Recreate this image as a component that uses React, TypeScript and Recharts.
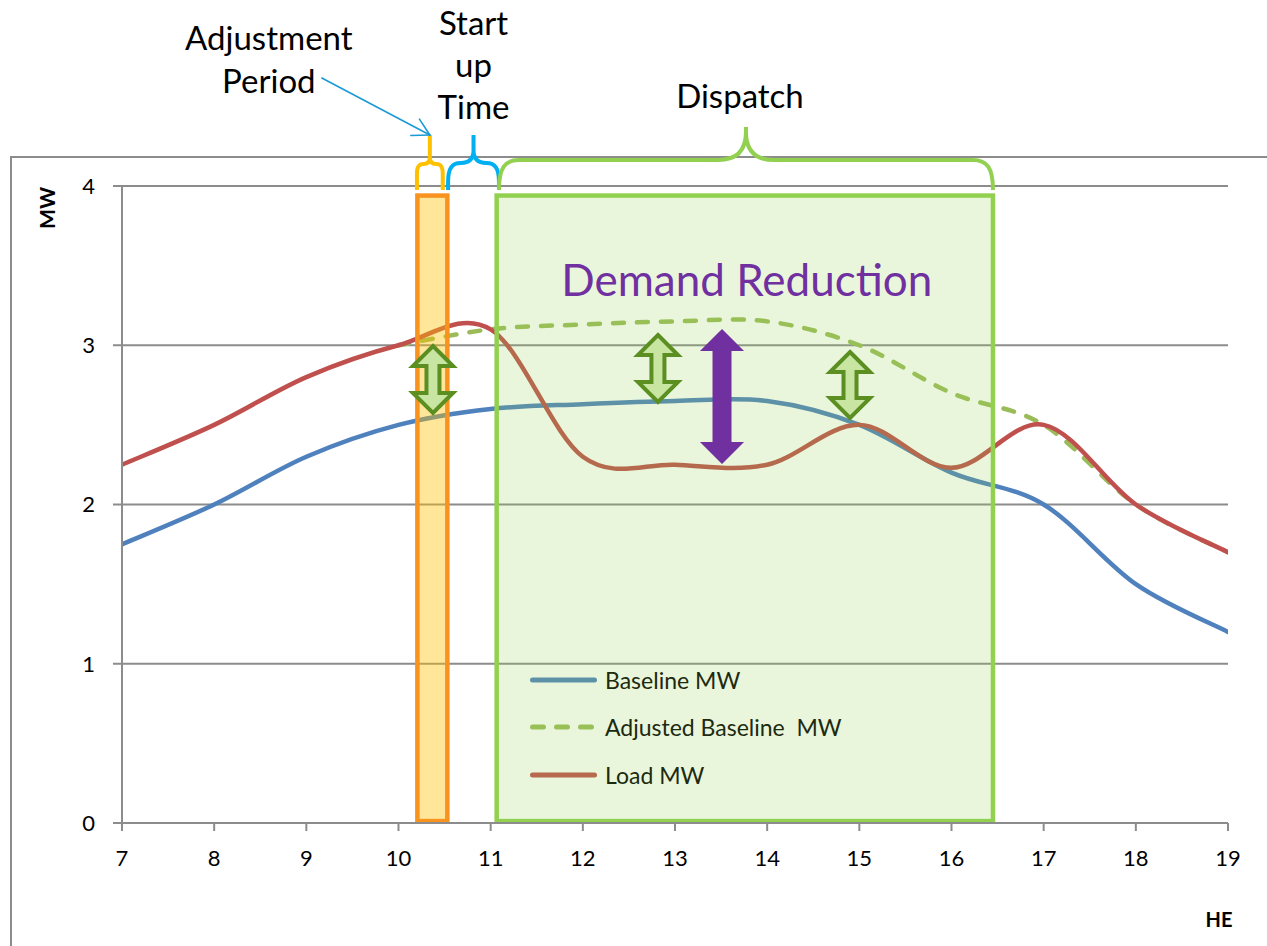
import React from 'react';
import { LineChart, Line, XAxis, YAxis, CartesianGrid, ReferenceArea, Legend } from 'recharts';

// ---------- data ----------
const hours = [7, 8, 9, 10, 11, 12, 13, 14, 15, 16, 17, 18, 19];
const baselineMW = [1.75, 2.0, 2.3, 2.5, 2.6, 2.63, 2.65, 2.65, 2.5, 2.2, 2.0, 1.5, 1.2];
const adjustedBaselineMW = [null, null, null, 3.0, 3.1, 3.13, 3.15, 3.15, 3.0, 2.7, 2.5, 2.0, 1.7];
const loadMW = [2.25, 2.5, 2.8, 3.0, 3.1, 2.3, 2.25, 2.25, 2.5, 2.23, 2.5, 2.0, 1.7];
const xTicks = [7, 8, 9, 10, 11, 12, 13, 14, 15, 16, 17, 18, 19];
const yTicks = [0, 1, 2, 3, 4];

// periods (hours) and band heights (MW)
const adjustmentPeriod = [10.205, 10.53];
const dispatchPeriod = [11.065, 16.45];
const bandRange = [0.012, 3.94];
const braceRange = [3.975, 4.32];
const dispatchBraceRange = [3.975, 4.37];
const adjustmentBrace = [10.2, 10.48];
const startupBrace = [10.538, 11.09];
const dispatchBrace = [11.09, 16.45];
// double arrows: centre hour, low MW, high MW
const greenArrows = [
  [10.374, 2.562, 3.008],
  [12.815, 2.631, 3.077],
  [14.899, 2.531, 2.97],
];
const purpleArrow = [13.51, 2.254, 3.102];
const arrowHalfWidth = 0.239;

const SERIES = [
  { key: 'baseline', name: 'Baseline MW', color: '#4F81BD', dash: undefined as string | undefined },
  { key: 'adjusted', name: 'Adjusted Baseline  MW', color: '#9BBB59', dash: '11 13' },
  { key: 'load', name: 'Load MW', color: '#C0504D', dash: undefined as string | undefined },
];

const rows = hours.map((h, i) => ({
  hour: h,
  baseline: baselineMW[i],
  adjusted: adjustedBaselineMW[i],
  load: loadMW[i],
}));

const FONT = 'Lato, "Open Sans", sans-serif';

// Excel-like smoothing (Catmull-Rom through the points)
function excelSmooth(context: any) {
  let pts: number[][] = [];
  return {
    areaStart() {},
    areaEnd() {},
    lineStart() {
      pts = [];
    },
    lineEnd() {
      const n = pts.length;
      if (!n) return;
      context.moveTo(pts[0][0], pts[0][1]);
      if (n === 1) {
        context.lineTo(pts[0][0], pts[0][1]);
        return;
      }
      for (let i = 0; i < n - 1; i++) {
        const p0 = pts[i - 1] || pts[i];
        const p1 = pts[i];
        const p2 = pts[i + 1];
        const p3 = pts[i + 2] || p2;
        context.bezierCurveTo(
          p1[0] + (p2[0] - p0[0]) / 6,
          p1[1] + (p2[1] - p0[1]) / 6,
          p2[0] - (p3[0] - p1[0]) / 6,
          p2[1] - (p3[1] - p1[1]) / 6,
          p2[0],
          p2[1]
        );
      }
    },
    point(x: number, y: number) {
      pts.push([+x, +y]);
    },
  };
}

function blend(hex: string, over: string, a: number) {
  const p = (h: string) => [1, 3, 5].map((k) => parseInt(h.slice(k, k + 2), 16));
  const c = p(hex);
  const o = p(over);
  const r = c.map((v, i) => Math.round(v * (1 - a) + o[i] * a));
  return `rgb(${r[0]},${r[1]},${r[2]})`;
}

type BraceCfg = {
  color: string;
  shoulder: number;
  radius: number;
  tipRadius: number;
  lines: string[];
  textDx: number;
  baselines: number[];
  pointer?: boolean;
};

function braceShape(cfg: BraceCfg) {
  return (p: any) => {
    const x0 = p.x;
    const x1 = p.x + p.width;
    const yt = p.y;
    const yb = p.y + p.height;
    const xc = (x0 + x1) / 2;
    const ym = yb - cfg.shoulder;
    const r1 = Math.min(cfg.radius, p.width / 4);
    const r2 = Math.min(cfg.tipRadius, p.width / 4);
    const legTop = ym + r1 * 1.5;
    const d =
      `M${x0},${yb} L${x0},${legTop} C${x0},${ym + r1 * 0.4} ${x0 + r1 * 0.3},${ym} ${x0 + r1},${ym} L${xc - r2},${ym} ` +
      `Q${xc},${ym} ${xc},${ym - r2} L${xc},${yt} ` +
      `M${xc},${yt} L${xc},${ym - r2} Q${xc},${ym} ${xc + r2},${ym} L${x1 - r1},${ym} ` +
      `C${x1 - r1 * 0.3},${ym} ${x1},${ym + r1 * 0.4} ${x1},${legTop} L${x1},${yb}`;
    let pointer = null;
    if (cfg.pointer) {
      const sx = xc - 108;
      const sy = yt - 57;
      const ang = Math.atan2(sy - yt, sx - xc);
      const L = 19;
      const da = (29 * Math.PI) / 180;
      pointer = (
        <g stroke="#1A9AD6" strokeWidth={1.6} fill="none" strokeLinecap="round">
          <line x1={sx} y1={sy} x2={xc} y2={yt} />
          <line x1={xc} y1={yt} x2={xc + L * Math.cos(ang + da)} y2={yt + L * Math.sin(ang + da)} />
          <line x1={xc} y1={yt} x2={xc + L * Math.cos(ang - da)} y2={yt + L * Math.sin(ang - da)} />
        </g>
      );
    }
    return (
      <g>
        <path d={d} fill="none" stroke={cfg.color} strokeWidth={4} strokeLinejoin="round" />
        {pointer}
        {cfg.lines.map((t, i) => (
          <text
            key={i}
            x={xc + cfg.textDx}
            y={yt + cfg.baselines[i]}
            textAnchor="middle"
            fontSize={33}
            fontFamily={FONT}
            fill="#000"
          >
            {t}
          </text>
        ))}
      </g>
    );
  };
}

function doubleArrowShape(fill: string, stroke: string | null, sw: number, shaftW: number, headH: number) {
  return (p: any) => {
    const s = stroke ? sw / 2 : 0;
    const left = p.x + s;
    const right = p.x + p.width - s;
    const top = p.y + s;
    const bottom = p.y + p.height - s;
    const cx = p.x + p.width / 2;
    const sh = shaftW / 2 - s;
    const hh = headH - s;
    const d =
      `M${cx},${top} L${right},${top + hh} L${cx + sh},${top + hh} L${cx + sh},${bottom - hh} ` +
      `L${right},${bottom - hh} L${cx},${bottom} L${left},${bottom - hh} L${cx - sh},${bottom - hh} ` +
      `L${cx - sh},${top + hh} L${left},${top + hh} Z`;
    return (
      <path
        d={d}
        fill={fill}
        stroke={stroke || 'none'}
        strokeWidth={stroke ? sw : 0}
        strokeLinejoin="miter"
      />
    );
  };
}

const adjustmentRect = (p: any) => (
  <rect
    x={p.x}
    y={p.y}
    width={p.width}
    height={p.height}
    fill="#FFC000"
    fillOpacity={0.4}
    stroke="#F7931E"
    strokeWidth={4.5}
  />
);

const dispatchRect = (p: any) => (
  <g>
    <rect
      x={p.x}
      y={p.y}
      width={p.width}
      height={p.height}
      fill="#92D050"
      fillOpacity={0.2}
      stroke="#92D050"
      strokeWidth={4.5}
    />
    <text
      x={p.x + p.width / 2 + 2}
      y={p.y + 100}
      textAnchor="middle"
      fontSize={44}
      fontFamily={FONT}
      fill="#7030A0"
    >
      Demand Reduction
    </text>
  </g>
);

const renderLegend = (props: any) => {
  const payload: any[] = props.payload || [];
  const keys = SERIES.filter((s) => payload.length === 0 || payload.some((e) => e.dataKey === s.key));
  return (
    <div style={{ fontFamily: FONT }}>
      {keys.map((s) => (
        <div key={s.key} style={{ display: 'flex', alignItems: 'center', height: 47.5 }}>
          <svg width={75} height={10} style={{ display: 'block' }}>
            <line
              x1={2.5}
              y1={5}
              x2={64.5}
              y2={5}
              stroke={blend(s.color, '#92D050', 0.2)}
              strokeWidth={5}
              strokeLinecap="round"
              strokeDasharray={s.dash}
            />
          </svg>
          <span
            style={{
              fontSize: 23,
              color: blend('#000000', '#92D050', 0.2),
              whiteSpace: 'pre',
              lineHeight: '28px',
            }}
          >
            {s.name}
          </span>
        </div>
      ))}
    </div>
  );
};

export default function App() {
  return (
    <div
      style={{
        position: 'relative',
        width: 1267,
        height: 946,
        overflow: 'hidden',
        background: '#fff',
        fontFamily: FONT,
      }}
    >
      <style>{'body{margin:0;}'}</style>
      <div
        style={{
          position: 'absolute',
          left: 10,
          top: 156,
          width: 1400,
          height: 900,
          borderTop: '2px solid #8C8C8C',
          borderLeft: '2px solid #8C8C8C',
        }}
      />
      <div
        style={{
          position: 'absolute',
          left: 45.5,
          top: 208,
          transform: 'translate(-50%, -50%) rotate(-90deg)',
          fontWeight: 700,
          fontSize: 21,
          lineHeight: '21px',
          zIndex: 2,
        }}
      >
        MW
      </div>
      <div
        style={{
          position: 'absolute',
          left: 1219,
          top: 919,
          transform: 'translate(-50%, -50%)',
          fontWeight: 700,
          fontSize: 20,
          lineHeight: '20px',
          zIndex: 2,
        }}
      >
        HE
      </div>
      <LineChart
        width={1267}
        height={946}
        data={rows}
        margin={{ top: 186, right: 39, bottom: 83, left: 62 }}
      >
        <CartesianGrid vertical={false} stroke="#8C8C8C" strokeWidth={2} />
        <XAxis
          type="number"
          dataKey="hour"
          domain={[7, 19]}
          ticks={xTicks}
          interval={0}
          height={40}
          allowDataOverflow
          tickSize={8}
          tickMargin={19}
          axisLine={{ stroke: '#8C8C8C', strokeWidth: 2 }}
          tickLine={{ stroke: '#8C8C8C', strokeWidth: 2 }}
          tick={{ fill: '#000', fontSize: 22, fontFamily: FONT }}
        />
        <YAxis
          type="number"
          domain={[0, 4]}
          ticks={yTicks}
          interval={0}
          width={60}
          allowDataOverflow
          tickSize={9}
          tickMargin={18}
          axisLine={{ stroke: '#8C8C8C', strokeWidth: 2 }}
          tickLine={{ stroke: '#8C8C8C', strokeWidth: 2 }}
          tick={{ fill: '#000', fontSize: 22, fontFamily: FONT }}
        />
        {SERIES.map((s) => (
          <Line
            key={s.key}
            dataKey={s.key}
            name={s.name}
            type={excelSmooth as any}
            stroke={s.color}
            strokeWidth={4.5}
            strokeDasharray={s.dash}
            strokeLinecap="round"
            dot={false}
            activeDot={false}
            isAnimationActive={false}
            connectNulls={false}
          />
        ))}
        <Legend
          layout="vertical"
          align="center"
          verticalAlign="middle"
          content={renderLegend}
          wrapperStyle={{ position: 'absolute', left: 530, top: 656, width: 380 }}
        />
        <ReferenceArea
          x1={adjustmentPeriod[0]}
          x2={adjustmentPeriod[1]}
          y1={bandRange[0]}
          y2={bandRange[1]}
          shape={adjustmentRect}
          ifOverflow="visible"
          zIndex={450}
        />
        <ReferenceArea
          x1={dispatchPeriod[0]}
          x2={dispatchPeriod[1]}
          y1={bandRange[0]}
          y2={bandRange[1]}
          shape={dispatchRect}
          ifOverflow="visible"
          zIndex={450}
        />
        <ReferenceArea
          x1={adjustmentBrace[0]}
          x2={adjustmentBrace[1]}
          y1={braceRange[0]}
          y2={braceRange[1]}
          ifOverflow="visible"
          zIndex={600}
          shape={braceShape({
            color: '#FFC000',
            shoulder: 26,
            radius: 7,
            tipRadius: 7,
            lines: ['Adjustment', 'Period'],
            textDx: -161,
            baselines: [-85, -42],
            pointer: true,
          })}
        />
        <ReferenceArea
          x1={startupBrace[0]}
          x2={startupBrace[1]}
          y1={braceRange[0]}
          y2={braceRange[1]}
          ifOverflow="visible"
          zIndex={600}
          shape={braceShape({
            color: '#00B0F0',
            shoulder: 27,
            radius: 13,
            tipRadius: 13,
            lines: ['Start', 'up', 'Time'],
            textDx: 0,
            baselines: [-100, -58, -16],
          })}
        />
        <ReferenceArea
          x1={dispatchBrace[0]}
          x2={dispatchBrace[1]}
          y1={dispatchBraceRange[0]}
          y2={dispatchBraceRange[1]}
          ifOverflow="visible"
          zIndex={600}
          shape={braceShape({
            color: '#92D050',
            shoulder: 30,
            radius: 20,
            tipRadius: 28,
            lines: ['Dispatch'],
            textDx: -6,
            baselines: [-19],
          })}
        />
        {greenArrows.map((a, i) => (
          <ReferenceArea
            key={'g' + i}
            x1={a[0] - arrowHalfWidth}
            x2={a[0] + arrowHalfWidth}
            y1={a[1]}
            y2={a[2]}
            ifOverflow="visible"
            zIndex={650}
            shape={doubleArrowShape('#C8E6A2', '#5B8F22', 4, 17, 22)}
          />
        ))}
        <ReferenceArea
          x1={purpleArrow[0] - arrowHalfWidth}
          x2={purpleArrow[0] + arrowHalfWidth}
          y1={purpleArrow[1]}
          y2={purpleArrow[2]}
          ifOverflow="visible"
          zIndex={650}
          shape={doubleArrowShape('#7030A0', null, 0, 19, 22)}
        />
      </LineChart>
    </div>
  );
}
